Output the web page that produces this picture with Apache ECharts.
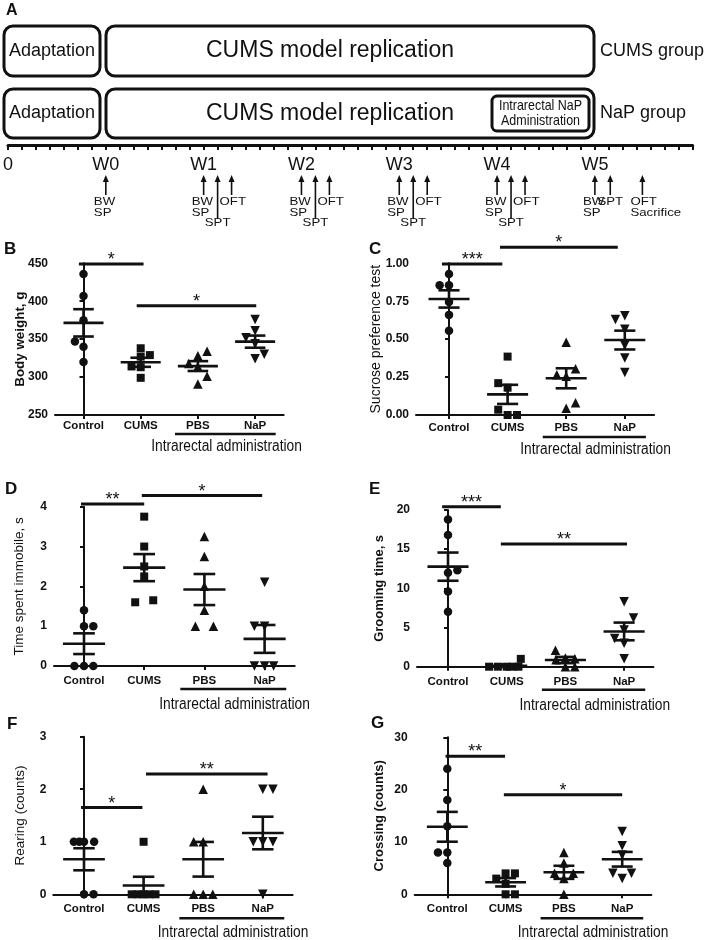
<!DOCTYPE html>
<html><head><meta charset="utf-8">
<script src="https://cdn.jsdelivr.net/npm/echarts@6/dist/echarts.min.js"></script>
<style>html,body{margin:0;padding:0;background:#fff}#c{width:708px;height:940px}</style>
</head><body><div id="c"></div>
<script>
// ---------- DATA ----------
const categories = ['Control', 'CUMS', 'PBS', 'NaP'];
const timelineDays = [0, 7, 14, 21, 28, 35, 42];
const timelineLabels = ['0', 'W0', 'W1', 'W2', 'W3', 'W4', 'W5'];
const arrowDays = [7, 14, 15, 16, 21, 22, 23, 28, 29, 30, 35, 36, 37, 42, 43.1, 45.4];
const arrowLong = [0, 0, 1, 0, 0, 1, 0, 0, 1, 0, 0, 1, 0, 0, 0, 0];
const arrowLabels = ['BW\nSP', 'BW\nSP', 'SPT', 'OFT', 'BW\nSP', 'SPT', 'OFT', 'BW\nSP', 'SPT', 'OFT',
  'BW\nSP', 'SPT', 'OFT', 'BW\nSP', 'SPT', 'OFT\nSacrifice'];

// B: body weight
const bwValues = [[436, 407, 375, 347, 340, 320], [338, 327, 329, 314, 313, 299], [328, 334, 318, 314, 301, 291], [376, 361, 352, 344, 330, 324]];
const bwJitter = [[0, 0, 0, -0.15, 0, 0], [0, 0, 0.16, -0.16, 0, 0], [0, 0.16, -0.16, 0, 0.16, 0], [0, 0, -0.16, 0, 0.16, 0]];
const bwMean = [371.5, 319.5, 314.5, 346.7];
const bwSem = [18, 6, 6.5, 8];
const bwSig = [[-0.08, 1.05, 449, '*'], [0.93, 3.02, 394, '*']];
// C: sucrose preference
const spValues = [[0.93, 0.855, 0.855, 0.745, 0.66, 0.555], [0.385, 0.21, 0.18, 0.035, 0.0, 0.0], [0.48, 0.265, 0.305, 0.255, 0.08, 0.045], [0.655, 0.63, 0.565, 0.46, 0.375, 0.28]];
const spJitter = [[0, -0.16, 0, 0, 0, 0], [0, -0.16, 0, -0.16, 0, 0.16], [0, -0.16, 0.16, 0, 0.16, 0], [0, -0.16, 0, 0, 0, 0]];
const spMean = [0.765, 0.136, 0.242, 0.494];
const spSem = [0.057, 0.063, 0.066, 0.062];
const spSig = [[-0.12, 0.91, 0.995, '***'], [0.87, 2.88, 1.105, '*']];
// D: immobility
const imValues = [[1.4, 1.0, 1.0, 0, 0, 0], [3.75, 3.0, 2.5, 2.25, 1.6, 1.65], [3.25, 2.75, 2.0, 1.4, 1.0, 1.0], [2.1, 1.0, 1.0, 0, 0, 0]];
const imJitter = [[0, 0, 0.155, -0.16, 0, 0.155], [0, 0, 0, 0, -0.15, 0.15], [0, 0, 0, 0, -0.15, 0.15], [0, -0.17, 0, -0.17, 0, 0.15]];
const imMean = [0.56, 2.47, 1.92, 0.68];
const imSem = [0.26, 0.34, 0.39, 0.35];
const imSig = [[-0.05, 1.0, 4.07, '**'], [0.96, 2.96, 4.28, '*']];
// E: grooming
const grValues = [[18.8, 16.8, 12.0, 12.3, 9.6, 7.0], [1.0, 0, 0, 0, 0, 0], [2.1, 1.1, 1.0, 0.9, 0, 0], [8.3, 6.2, 3.6, 3.0, 1.0, 4.7]];
const grJitter = [[0, 0, 0, 0.16, 0, 0], [0.24, -0.3, -0.15, 0, 0.1, 0.2], [-0.17, 0, 0.16, -0.16, 0, 0.16], [0, 0.16, -0.16, 0, 0, 0]];
const grMean = [12.77, 0.13, 0.85, 4.5];
const grSem = [1.8, 0.17, 0.4, 1.13];
const grSig = [[-0.1, 0.9, 20.4, '***'], [0.9, 3.05, 15.67, '**']];
// F: rearing
const reValues = [[1, 1, 1, 1, 0, 0], [1, 0, 0, 0, 0, 0], [2, 1, 1, 0, 0, 0], [2, 2, 1, 1, 1, 0]];
const reJitter = [[-0.17, -0.08, 0, 0.17, 0, 0.16], [0, -0.2, -0.1, 0, 0.1, 0.2], [0, -0.16, 0, -0.16, 0, 0.16], [0, 0.17, -0.16, 0, 0.17, 0]];
const reMean = [0.667, 0.167, 0.667, 1.167];
const reSem = [0.21, 0.167, 0.33, 0.31];
const reSig = [[-0.05, 0.98, 1.65, '*'], [1.04, 3.08, 2.29, '**']];
// G: crossing
const crValues = [[24, 18, 13, 8, 8, 6], [4, 4, 3, 2, 0, 0], [8, 6, 4, 4, 3, 0], [12, 9.3, 7.5, 4, 4, 3]];
const crJitter = [[0, 0, 0, -0.16, 0, 0], [0, 0.16, -0.16, 0, 0, 0.16], [0, 0, -0.16, 0.16, 0, 0], [0, 0, 0, -0.16, 0.16, 0]];
const crMean = [12.9, 2.3, 4.2, 6.7];
const crSem = [2.85, 0.8, 1.25, 1.4];
const crSig = [[-0.03, 0.99, 26.4, '**'], [0.97, 3.0, 19.0, '*']];

// ---------- STYLE / LAYOUT ----------
const SANS = "'Liberation Sans', Arial, sans-serif";
const INK = '#111';

const panels = [
  {letter: 'B', lx: 4, ly: 249, left: 55, c0: 83.5, sp: 57.2, top: 263.3, bottom: 415, min: 250, max: 450, interval: 50, dec: 0,
    name: 'Body weight, g', bold: true, nfs: 13.4, nameGap: 28, lblMargin: 5, under: 19, textGap: 32,
    values: bwValues, jitter: bwJitter, mean: bwMean, sem: bwSem, sig: bwSig},
  {letter: 'C', lx: 369, ly: 249, left: 416, c0: 449, sp: 58.6, top: 263.3, bottom: 415, min: 0, max: 1, interval: 0.25, dec: 2,
    name: 'Sucrose preference test', bold: false, nfs: 14, nameGap: 33, lblMargin: 7, under: 22, textGap: 35,
    values: spValues, jitter: spJitter, mean: spMean, sem: spSem, sig: spSig},
  {letter: 'D', lx: 5, ly: 489, left: 54, c0: 84, sp: 60.2, top: 506.7, bottom: 666, min: 0, max: 4, interval: 1, dec: 0,
    name: 'Time spent immobile, s', bold: false, nfs: 13.5, nameGap: 28, lblMargin: 9, under: 23, textGap: 39,
    values: imValues, jitter: imJitter, mean: imMean, sem: imSem, sig: imSig},
  {letter: 'E', lx: 369, ly: 489, left: 417, c0: 448, sp: 58.7, top: 510, bottom: 666.7, min: 0, max: 20, interval: 5, dec: 0,
    name: 'Grooming time, s', bold: true, nfs: 13, nameGap: 31, lblMargin: 9, under: 23, textGap: 39,
    values: grValues, jitter: grJitter, mean: grMean, sem: grSem, sig: grSig},
  {letter: 'F', lx: 7, ly: 724, left: 53.3, c0: 84, sp: 59.6, top: 736.7, bottom: 894.3, min: 0, max: 3, interval: 1, dec: 0,
    name: 'Rearing (counts)', bold: false, nfs: 13.5, nameGap: 26, lblMargin: 9, under: 24, textGap: 38,
    values: reValues, jitter: reJitter, mean: reMean, sem: reSem, sig: reSig},
  {letter: 'G', lx: 371, ly: 723, left: 414.7, c0: 447.3, sp: 58.3, top: 737.3, bottom: 894.3, min: 0, max: 30, interval: 10, dec: 0,
    name: 'Crossing (counts)', bold: true, nfs: 13, nameGap: 29, lblMargin: 9, under: 24, textGap: 38,
    values: crValues, jitter: crJitter, mean: crMean, sem: crSem, sig: crSig}
];

const groupSymbols = ['circle', 'rect', 'triangle', 'triangle'];
const groupRotate = [0, 0, 0, 180];
const groupSize = [8.5, 8, 9.5, 9.5];

const grids = [], xAxes = [], yAxes = [], series = [], gfx = [];

// ---------- Panel A: timeline ----------
grids.push({left: 6.7, width: 686, top: 145, height: 90});
xAxes.push({
  gridIndex: 0, type: 'value', min: 0, max: 49, interval: 7, position: 'top',
  axisLine: {show: true, lineStyle: {color: INK, width: 3}},
  axisTick: {show: true, inside: true, length: 5, lineStyle: {color: INK, width: 2}},
  minorTick: {show: true, splitNumber: 7, length: 5, lineStyle: {color: INK, width: 2}},
  splitLine: {show: false},
  axisLabel: {inside: true, margin: 11, color: INK, fontSize: 18, fontFamily: SANS,
    formatter: v => { const i = timelineDays.indexOf(v); return i >= 0 ? timelineLabels[i] : ''; }}
});
yAxes.push({gridIndex: 0, type: 'value', min: 0, max: 90, inverse: true, show: false});
series.push({
  type: 'custom', xAxisIndex: 0, yAxisIndex: 0, clip: false,
  data: arrowDays.map((d, i) => [d, arrowLong[i]]),
  renderItem: (params, api) => {
    const idx = params.dataIndex;
    const day = api.value(0), isLong = api.value(1) === 1;
    const tip = api.coord([day, 30]);
    const bot = api.coord([day, isLong ? 74 : 50]);
    const lab = arrowLabels[idx];
    const centered = lab === 'SPT';
    const ty = isLong ? bot[1] - 1 : api.coord([day, 52])[1];
    return {type: 'group', children: [
      {type: 'line', shape: {x1: tip[0], y1: tip[1] + 4, x2: bot[0], y2: bot[1]}, style: {stroke: INK, lineWidth: 1.6}},
      {type: 'polygon', shape: {points: [[tip[0], tip[1]], [tip[0] - 3, tip[1] + 7], [tip[0] + 3, tip[1] + 7]]}, style: {fill: INK}},
      {type: 'text', x: centered ? tip[0] : tip[0] - 12, y: ty, scaleX: 1.15,
        style: {text: lab, x: 0, y: 0, align: centered ? 'center' : 'left',
        verticalAlign: 'top', fill: INK, fontSize: 11.5, lineHeight: 10.5, fontFamily: SANS}}
    ]};
  }
});

function rr(x, y, w, h, lw, r) {
  return {type: 'rect', shape: {x, y, width: w, height: h, r: r}, style: {fill: 'none', stroke: INK, lineWidth: lw}};
}
function tx(x, y, text, size, opt, sx) {
  opt = opt || {};
  return {type: 'text', x: x, y: y, scaleX: sx || 1, style: Object.assign({text, x: 0, y: 0, fill: INK, fontSize: size, fontFamily: SANS,
    align: 'center', verticalAlign: 'middle'}, opt)};
}
gfx.push(tx(6, 11, 'A', 16, {align: 'left', fontWeight: 'bold'}));
gfx.push(rr(4, 26, 96, 50, 3, 9), rr(106, 26, 488, 50, 3, 9));
gfx.push(tx(52, 51, 'Adaptation', 18), tx(330, 51, 'CUMS model replication', 23), tx(600, 51, 'CUMS group', 18, {align: 'left'}));
gfx.push(rr(4, 89, 96, 49, 3, 9), rr(106, 89, 488, 49, 3, 9));
gfx.push(rr(492, 96, 97, 35, 3, 5));
gfx.push(tx(52, 113.5, 'Adaptation', 18), tx(330, 113.5, 'CUMS model replication', 23), tx(600, 113.5, 'NaP group', 18, {align: 'left'}));
gfx.push(tx(540.5, 113.5, 'Intrarectal NaP\nAdministration', 14.5, {lineHeight: 15}, 0.86));

// ---------- Panels B-G ----------
panels.forEach((p, k) => {
  const gi = k + 1;
  const xmin = (p.left - p.c0) / p.sp;
  const width = (3.5 - xmin) * p.sp;
  grids.push({left: p.left, top: p.top, width: width, height: p.bottom - p.top});
  xAxes.push({
    gridIndex: gi, type: 'value', min: xmin, max: 3.5,
    axisLine: {show: true, onZero: false, lineStyle: {color: INK, width: 2}},
    axisTick: {show: true, length: 4, lineStyle: {color: INK, width: 2}, customValues: [0, 1, 2, 3]},
    axisLabel: {customValues: [0, 1, 2, 3], margin: p.lblMargin, color: INK, fontSize: 11.5, fontWeight: 'bold', fontFamily: SANS,
      formatter: v => (Number.isInteger(v) && categories[v]) ? categories[v] : ''},
    splitLine: {show: false}
  });
  yAxes.push({
    gridIndex: gi, type: 'value', min: p.min, max: p.max, interval: p.interval,
    axisLine: {show: true, lineStyle: {color: INK, width: 2}},
    axisTick: {show: true, length: 4, lineStyle: {color: INK, width: 2}},
    axisLabel: {margin: 7, color: INK, fontSize: 12, fontWeight: 'bold', fontFamily: SANS,
      formatter: v => v.toFixed(p.dec)},
    splitLine: {show: false},
    name: p.name, nameLocation: 'middle', nameRotate: 90, nameGap: p.nameGap, nameMoveOverlap: false,
    nameTextStyle: {color: INK, fontSize: p.nfs, fontWeight: p.bold ? 'bold' : 'normal', fontFamily: SANS}
  });
  // points
  p.values.forEach((vals, g) => {
    series.push({
      type: 'scatter', xAxisIndex: gi, yAxisIndex: gi, clip: false,
      symbol: groupSymbols[g], symbolRotate: groupRotate[g], symbolSize: groupSize[g],
      itemStyle: {color: INK, opacity: 1},
      data: vals.map((v, j) => [g + p.jitter[g][j], v]),
      z: 3
    });
  });
  // mean +- SEM
  series.push({
    type: 'custom', xAxisIndex: gi, yAxisIndex: gi, clip: false, z: 4,
    data: p.mean.map((m, g) => [g, m, p.sem[g]]),
    renderItem: (params, api) => {
      const g = api.value(0), m = api.value(1), s = api.value(2);
      const c = api.coord([g, m]), up = api.coord([g, m + s]), lo = api.coord([g, m - s]);
      const hw = api.size([0.35, 0])[0], ww = api.size([0.18, 0])[0];
      const st = {stroke: INK, lineWidth: 2.6};
      return {type: 'group', children: [
        {type: 'line', shape: {x1: c[0] - hw, y1: c[1], x2: c[0] + hw, y2: c[1]}, style: st},
        {type: 'line', shape: {x1: c[0], y1: up[1], x2: c[0], y2: lo[1]}, style: st},
        {type: 'line', shape: {x1: c[0] - ww, y1: up[1], x2: c[0] + ww, y2: up[1]}, style: st},
        {type: 'line', shape: {x1: c[0] - ww, y1: lo[1], x2: c[0] + ww, y2: lo[1]}, style: st}
      ]};
    }
  });
  // significance bars
  series.push({
    type: 'custom', xAxisIndex: gi, yAxisIndex: gi, clip: false, z: 4,
    data: p.sig.map(s => [s[0], s[1], s[2]]),
    renderItem: (params, api) => {
      const a = api.coord([api.value(0), api.value(2)]), b = api.coord([api.value(1), api.value(2)]);
      const lab = p.sig[params.dataIndex][3];
      return {type: 'group', children: [
        {type: 'line', shape: {x1: a[0], y1: a[1], x2: b[0], y2: b[1]}, style: {stroke: INK, lineWidth: 3}},
        {type: 'text', style: {text: lab, x: (a[0] + b[0]) / 2, y: a[1] - 4, align: 'center', verticalAlign: 'middle',
          fill: INK, fontSize: 18, fontFamily: SANS}}
      ]};
    }
  });
  // decorations: panel letter, underline, group caption
  const pbs = p.c0 + 2 * p.sp, nap = p.c0 + 3 * p.sp;
  gfx.push(tx(p.lx, p.ly, p.letter, 17, {align: 'left', fontWeight: 'bold'}));
  gfx.push({type: 'line', shape: {x1: pbs - 0.4 * p.sp, y1: p.bottom + p.under, x2: nap + 0.36 * p.sp, y2: p.bottom + p.under},
    style: {stroke: INK, lineWidth: 2.5}});
  gfx.push(tx((pbs + nap) / 2, p.bottom + p.textGap, 'Intrarectal administration', 16, {}, 0.86));
});

const chart = echarts.init(document.getElementById('c'), null, {renderer: 'canvas'});
chart.setOption({
  animation: false,
  backgroundColor: '#fff',
  textStyle: {fontFamily: SANS},
  grid: grids, xAxis: xAxes, yAxis: yAxes, series: series,
  graphic: {elements: gfx}
});
</script></body></html>
